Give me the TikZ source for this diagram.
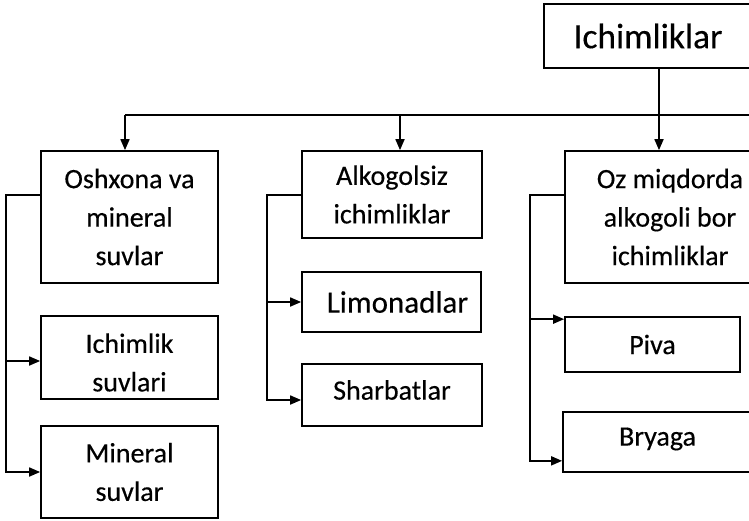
\documentclass[tikz,border=0pt]{standalone}
\usepackage{fontspec}
\setmainfont{Carlito}[FakeBold=0.35]
\usetikzlibrary{arrows.meta}

\tikzset{
  txt/.style={inner sep=0pt, align=center, font=\fontsize{28}{38.5}\selectfont},
  box/.style={txt, draw=black, line width=1.7pt, rectangle},
  ln/.style={draw=black, line width=1.7pt},
  arr/.style={ln, -{Triangle[length=11pt,width=9pt]}}
}

\begin{document}
\begin{tikzpicture}[x=1pt, y=-1pt]
  \useasboundingbox (0,0) rectangle (749,520);

  % top level
  \node[box, minimum width=208pt, minimum height=64pt,
        font=\fontsize{35.5}{40}\selectfont] (top) at (648,36) {Ichimliklar};

  % first column
  \node[box, minimum width=177pt, minimum height=132pt] (b1) at (129.5,217)
    {Oshxona va\\mineral\\suvlar};
  \node[box, minimum width=177pt, minimum height=83pt] (b2) at (129.5,357.5) {};
  \node[txt] (b2t) at ([yshift=-5pt]b2.center) {Ichimlik\\suvlari};
  \node[box, minimum width=177pt, minimum height=92pt] (b3) at (129.5,472)
    {Mineral\\suvlar};

  % second column
  \node[box, minimum width=180pt, minimum height=87pt] (a1) at (392,194.5)
    {Alkogolsiz\\ichimliklar};
  \node[box, minimum width=179pt, minimum height=60pt] (a2) at (391.5,302) {};
  \node[txt, font=\fontsize{31}{38}\selectfont] (a2t) at ([xshift=6pt]a2.center) {Limonadlar};
  \node[box, minimum width=180pt, minimum height=62pt] (a3) at (392,395) {};
  \node[txt] (a3t) at ([yshift=5pt]a3.center) {Sharbatlar};

  % third column
  \node[box, minimum width=210pt, minimum height=132pt] (c1) at (670,217)
    {Oz miqdorda\\alkogoli bor\\ichimliklar};
  \node[box, minimum width=175pt, minimum height=55pt] (c2) at (652.5,344.5)
    {Piva};
  \node[box, minimum width=189pt, minimum height=60pt] (c3) at (657.5,442) {};
  \node[txt] (c3t) at ([yshift=3pt]c3.center) {Bryaga};

  % distribution bus under the top box
  \coordinate (j1) at (125,115);
  \coordinate (j2) at (400,115);
  \coordinate (j3) at (659,115);
  \coordinate (jr) at (755,115);
  \draw[ln] (j1) -- (jr);
  \draw[arr] (top.south -| j3) -- (j3 |- c1.north);
  \draw[arr] (j1) -- (j1 |- b1.north);
  \draw[arr] (j2) -- (j2 |- a1.north);

  % first column branches
  \draw[arr] ([yshift=-45pt]b1.north west) -- ++(-34,0) coordinate (k1) |- (b3.west);
  \draw[arr] (k1 |- b2.west) ++(0,3.5) -- ([yshift=-3.5pt]b2.west);

  % second column branches
  \draw[arr] ([yshift=-45pt]a1.north west) -- ++(-34,0) coordinate (k2) |- ([yshift=-5pt]a3.west);
  \draw[arr] (k2 |- a2.west) -- (a2.west);

  % third column branches
  \draw[arr] ([yshift=-45pt]c1.north west) -- ++(-34,0) coordinate (k3) |- ([yshift=12pt]c3.south west);
  \draw[arr] (k3 |- c2.north) ++(0,3) -- ([yshift=-3pt]c2.north west);
\end{tikzpicture}
\end{document}
